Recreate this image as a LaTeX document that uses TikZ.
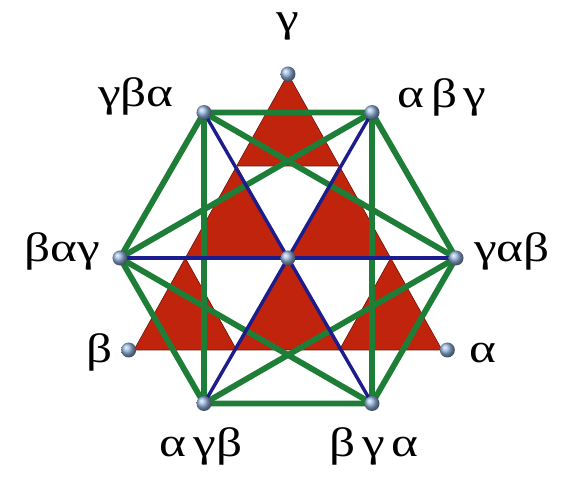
\documentclass[tikz,border=0pt]{standalone}
\usepackage{fontspec}
\newfontfamily\grk[FakeStretch=1.25]{Liberation Serif}
\usetikzlibrary{math}
\definecolor{myred}{RGB}{193,36,12}
\definecolor{mygreen}{RGB}{30,125,55}
\definecolor{myblue}{RGB}{28,28,140}
\definecolor{mydot}{RGB}{145,178,220}

\begin{document}
\begin{tikzpicture}[x=1pt,y=1pt,
  tri/.style={fill=myred,draw=myred!55!black,line width=0.6pt},
  edge/.style={mygreen,line width=5.8pt,line join=round},
  diag/.style={myblue,line width=3.4pt},
  lab/.style={font=\grk\fontsize{41}{43}\selectfont,inner sep=0pt,anchor=base}]
\tikzmath{
\R=168;
\r=184;
\s=102.7;
\h=92;
}
\useasboundingbox (-288,-228) rectangle (277,258);

% red triangles
\filldraw[tri] (0,2*\h) -- ++(-\s/2,-\h) -- ++(\s,0) -- cycle;
\filldraw[tri] (-\s/2,\h) -- ++(-\s/2,-\h) -- ++(\s,0) -- cycle;
\filldraw[tri] (\s/2,\h) -- ++(-\s/2,-\h) -- ++(\s,0) -- cycle;
\filldraw[tri] (-\s,0) -- ++(-\s/2,-\h) -- ++(\s,0) -- cycle;
\filldraw[tri] (0,0) -- ++(-\s/2,-\h) -- ++(\s,0) -- cycle;
\filldraw[tri] (\s,0) -- ++(-\s/2,-\h) -- ++(\s,0) -- cycle;

\coordinate (gab) at (0:\R);
\coordinate (abg) at (60:\R);
\coordinate (gba) at (120:\R);
\coordinate (bag) at (180:\R);
\coordinate (agb) at (240:\R);
\coordinate (bga) at (300:\R);
\coordinate (c) at (0,0);
\coordinate (g) at (90:\r);
\coordinate (b) at (210:\r);
\coordinate (a) at (330:\r);

% hexagon and short diagonals
\draw[edge] (gba) -- (abg) -- (gab) -- (bga) -- (agb) -- (bag) -- cycle;
\draw[edge] (gba) -- (agb);
\draw[edge] (abg) -- (bga);
\draw[edge] (gba) -- (gab);
\draw[edge] (abg) -- (bag);
\draw[edge] (bag) -- (bga);
\draw[edge] (gab) -- (agb);

% long diagonals
\draw[diag] (gba) -- (c) -- (bga);
\draw[diag] (abg) -- (c) -- (agb);
\draw[diag] (bag) -- (c) -- (gab);

\shade[ball color=mydot] (gab) circle (7.5pt);
\shade[ball color=mydot] (abg) circle (7.5pt);
\shade[ball color=mydot] (gba) circle (7.5pt);
\shade[ball color=mydot] (bag) circle (7.5pt);
\shade[ball color=mydot] (agb) circle (7.5pt);
\shade[ball color=mydot] (bga) circle (7.5pt);
\shade[ball color=mydot] (c) circle (7.5pt);
\shade[ball color=mydot] (g) circle (7.5pt);
\shade[ball color=mydot] (b) circle (7.5pt);
\shade[ball color=mydot] (a) circle (7.5pt);

\node[lab] (lg) at (0,226) {γ};
\node[lab] (lgba) at (-152,151) {γβα};
\node[lab] (labg) at (154,150) {α\,β\,γ};
\node[lab] (lbag) at (-226,-4) {βαγ};
\node[lab] (lgab) at (224,-4) {γαβ};
\node[lab] (lagb) at (-87,-199) {α\,γβ};
\node[lab] (lbga) at (86,-199) {β\,γ\,α};
\node[lab] (lb) at (-188,-105) {β};
\node[lab] (la) at (195,-105) {α};
\end{tikzpicture}
\end{document}
